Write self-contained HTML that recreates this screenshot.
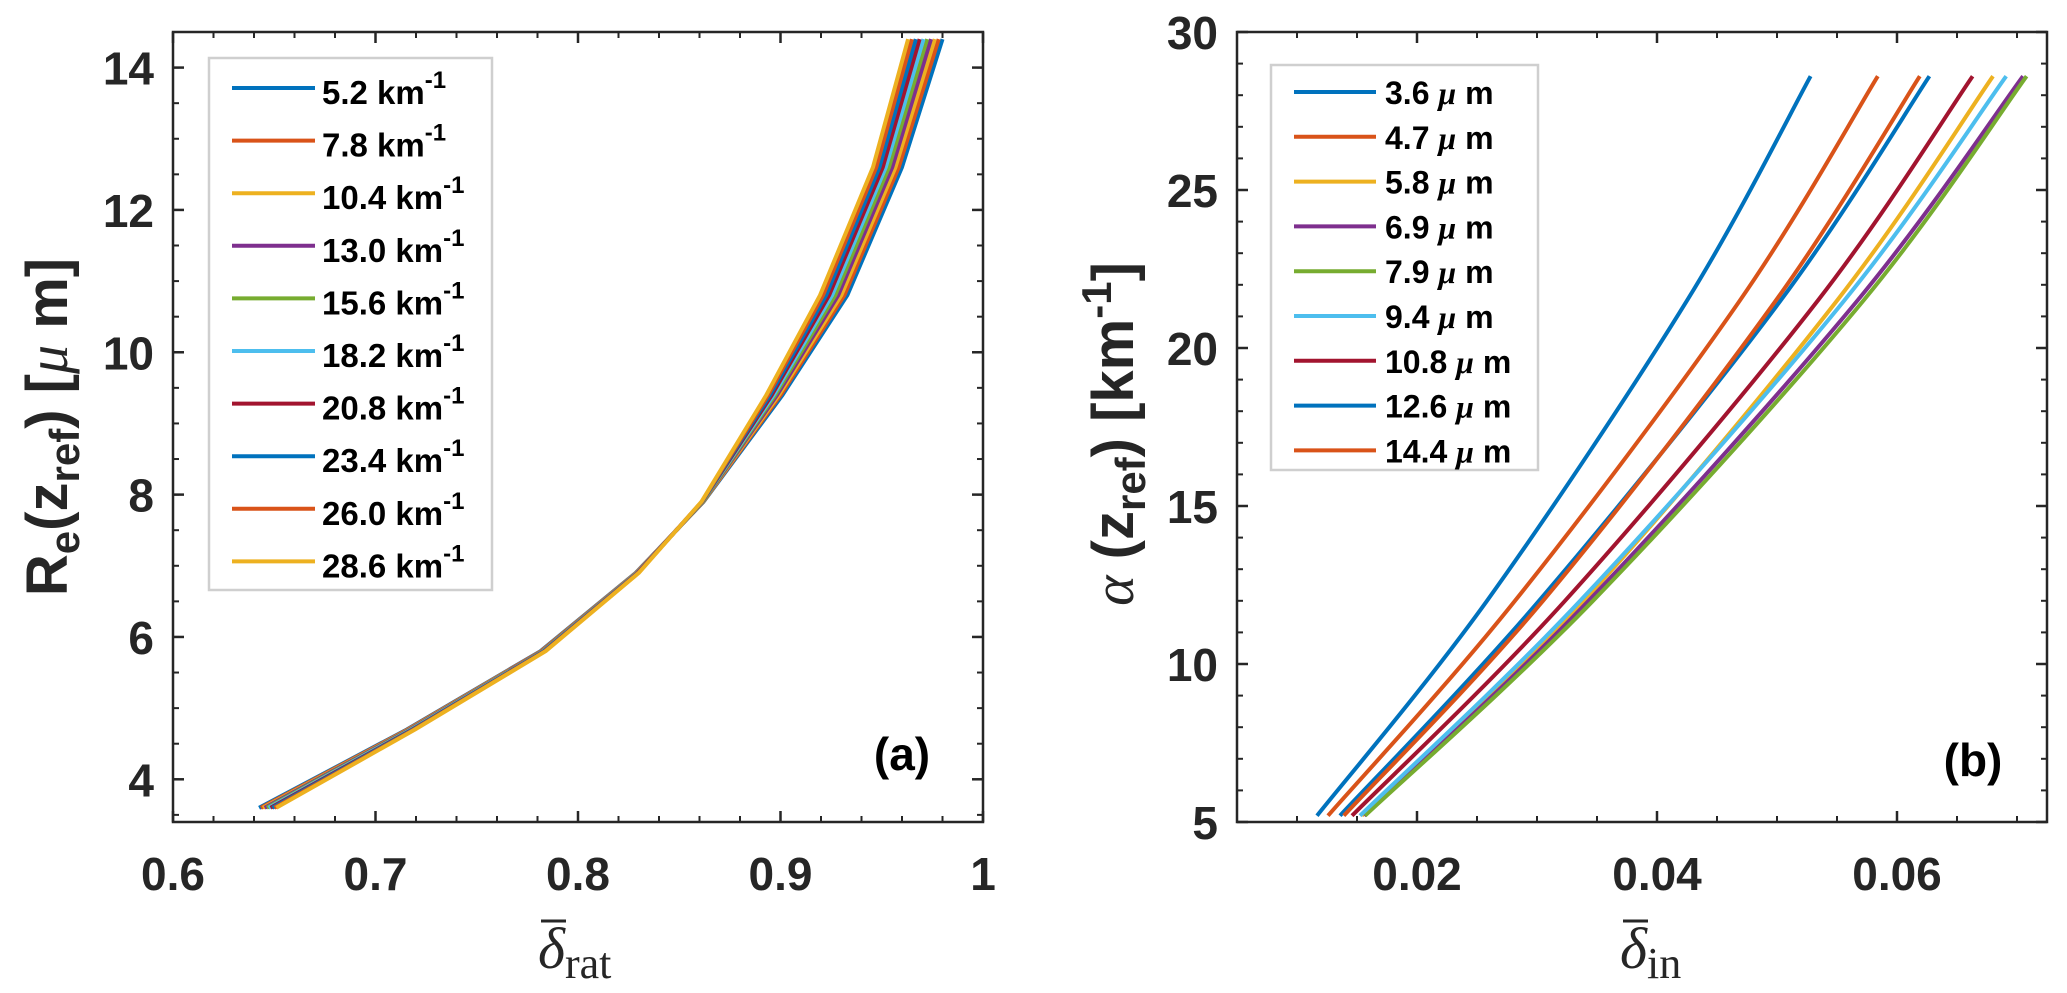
<!DOCTYPE html>
<html><head><meta charset="utf-8">
<style>
html,body{margin:0;padding:0;background:#fff;}
svg{display:block;font-family:"Liberation Sans",sans-serif;}
</style></head>
<body>
<svg id="fig" width="2067" height="993" viewBox="0 0 2067 993" xmlns="http://www.w3.org/2000/svg">
<rect width="2067" height="993" fill="#fff"/>
<g id="pa"></g>
<g id="pb"></g>
</svg>
<script>
// ---------- Panel (a) data ----------
const reLevels = [3.6, 4.7, 5.8, 6.9, 7.9, 9.4, 10.8, 12.6, 14.4];
const alphaNames = ["5.2","7.8","10.4","13.0","15.6","18.2","20.8","23.4","26.0","28.6"];
const dRat_5_2  = [0.6425,0.7155,0.7815,0.8285,0.8620,0.9010,0.9330,0.9600,0.9800];
const dRat_7_8  = [0.6434,0.7159,0.7818,0.8287,0.8619,0.9001,0.9315,0.9584,0.9781];
const dRat_10_4 = [0.6444,0.7164,0.7821,0.8288,0.8618,0.8992,0.9300,0.9568,0.9762];
const dRat_13_0 = [0.6453,0.7168,0.7823,0.8290,0.8617,0.8983,0.9285,0.9552,0.9743];
const dRat_15_6 = [0.6463,0.7173,0.7826,0.8292,0.8616,0.8974,0.9270,0.9536,0.9724];
const dRat_18_2 = [0.6472,0.7177,0.7829,0.8293,0.8614,0.8966,0.9255,0.9520,0.9706];
const dRat_20_8 = [0.6482,0.7182,0.7832,0.8295,0.8613,0.8957,0.9240,0.9505,0.9687];
const dRat_23_4 = [0.6491,0.7186,0.7834,0.8297,0.8612,0.8948,0.9225,0.9489,0.9668];
const dRat_26_0 = [0.6501,0.7191,0.7837,0.8298,0.8611,0.8939,0.9210,0.9473,0.9649];
const dRat_28_6 = [0.6510,0.7195,0.7840,0.8300,0.8610,0.8930,0.9195,0.9457,0.9630];
const xTicksA = [0.6, 0.7, 0.8, 0.9, 1];
const xTickLabelsA = ["0.6","0.7","0.8","0.9","1"];
const yTicksA = [4, 6, 8, 10, 12, 14];
const yTickLabelsA = ["4","6","8","10","12","14"];

// ---------- Panel (b) data ----------
const alphaLevels = [5.2, 12.0, 21.5, 28.6];
const reNames = ["3.6","4.7","5.8","6.9","7.9","9.4","10.8","12.6","14.4"];
const dIn_3_6  = [0.01167,0.02583,0.0425,0.0528];
const dIn_4_7  = [0.01258,0.02817,0.0469,0.0584];
const dIn_5_8  = [0.01540,0.03390,0.0550,0.0680];
const dIn_6_9  = [0.01560,0.03430,0.0567,0.0705];
const dIn_7_9  = [0.01567,0.03467,0.0572,0.0708];
const dIn_9_4  = [0.01525,0.03360,0.0556,0.0691];
const dIn_10_8 = [0.01458,0.03233,0.0534,0.0663];
const dIn_12_6 = [0.01358,0.03017,0.0503,0.0627];
const dIn_14_4 = [0.01390,0.03050,0.0499,0.0619];
const xTicksB = [0.02, 0.04, 0.06];
const xTickLabelsB = ["0.02","0.04","0.06"];
const yTicksB = [5, 10, 15, 20, 25, 30];
const yTickLabelsB = ["5","10","15","20","25","30"];

const colors = ["#0072BD","#D95319","#EDB120","#7E2F8E","#77AC30","#4DBEEE","#A2142F"];
const NS = "http://www.w3.org/2000/svg";
function mk(tag, attrs, parent){const e=document.createElementNS(NS,tag);for(const k in attrs)e.setAttribute(k,attrs[k]);parent.appendChild(e);return e;}

const TOP=32, BOT=822;
const A={l:173,r:983,xmin:0.6,xmax:1.0,ymin:3.4,ymax:14.5};
const B={l:1237,r:2047,xmin:0.005,xmax:0.0725,ymin:5,ymax:30};
function sx(ax,v){return ax.l+(v-ax.xmin)/(ax.xmax-ax.xmin)*(ax.r-ax.l);}
function sy(ax,v){return BOT-(v-ax.ymin)/(ax.ymax-ax.ymin)*(BOT-TOP);}

function drawAxes(ax, g, xt, xtl, yt, ytl, xMinorStep, yMinorStep, tag){
  for(let v=Math.ceil(ax.xmin/xMinorStep-1e-6)*xMinorStep; v<=ax.xmax+1e-9; v+=xMinorStep){
    const x=sx(ax,v);
    const t1=mk("line",{x1:x,y1:BOT,x2:x,y2:BOT-6,stroke:"#262626","stroke-width":2},g);
    
    
    const t2=mk("line",{x1:x,y1:TOP,x2:x,y2:TOP+6,stroke:"#262626","stroke-width":2},g);
    
    
  }
  for(let v=Math.ceil(ax.ymin/yMinorStep-1e-6)*yMinorStep; v<=ax.ymax+1e-9; v+=yMinorStep){
    const y=sy(ax,v);
    const t1=mk("line",{x1:ax.l,y1:y,x2:ax.l+6,y2:y,stroke:"#262626","stroke-width":2},g);
    
    
    const t2=mk("line",{x1:ax.r,y1:y,x2:ax.r-6,y2:y,stroke:"#262626","stroke-width":2},g);
    
    
  }
  xt.forEach((v,i)=>{
    const x=sx(ax,v);
    const t1=mk("line",{x1:x,y1:BOT,x2:x,y2:BOT-11,stroke:"#262626","stroke-width":2.5},g);
    
    
    const t2=mk("line",{x1:x,y1:TOP,x2:x,y2:TOP+11,stroke:"#262626","stroke-width":2.5},g);
    
    
    const tx=mk("text",{x:x,y:890,"text-anchor":"middle","font-size":46,"font-weight":"bold",fill:"#262626"},g);
    tx.textContent=xtl[i];
    
    
  });
  yt.forEach((v,i)=>{
    const y=sy(ax,v);
    const t1=mk("line",{x1:ax.l,y1:y,x2:ax.l+11,y2:y,stroke:"#262626","stroke-width":2.5},g);
    
    
    const t2=mk("line",{x1:ax.r,y1:y,x2:ax.r-11,y2:y,stroke:"#262626","stroke-width":2.5},g);
    
    
    const tx=mk("text",{x:ax.l-19,y:y+17,"text-anchor":"end","font-size":46,"font-weight":"bold",fill:"#262626"},g);
    tx.textContent=ytl[i];
    
    
  });
  const box=mk("rect",{x:ax.l,y:TOP,width:ax.r-ax.l,height:BOT-TOP,fill:"none",stroke:"#262626","stroke-width":2.5},g);
  
  
}

// ---------- Panel a ----------
const ga=document.getElementById("pa");
const seriesA=[dRat_5_2,dRat_7_8,dRat_10_4,dRat_13_0,dRat_15_6,dRat_18_2,dRat_20_8,dRat_23_4,dRat_26_0,dRat_28_6];
seriesA.forEach((arr,i)=>{
  const pts=arr.map((v,j)=>sx(A,v).toFixed(1)+","+sy(A,reLevels[j]).toFixed(1)).join(" ");
  const pl=mk("polyline",{points:pts,fill:"none",stroke:colors[i%7],"stroke-width":4,"stroke-linejoin":"round"},ga);
  
  
});
drawAxes(A,ga,xTicksA,xTickLabelsA,yTicksA,yTickLabelsA,0.02,0.5,"a");
const lga=mk("g",{},ga);


mk("rect",{x:209,y:58,width:283,height:532,fill:"#fff",stroke:"#cfcfcf","stroke-width":2.5},lga);
alphaNames.forEach((n,i)=>{
  const y=88+i*52.6;
  const en=mk("g",{},lga);
  
  
  mk("line",{x1:232,y1:y,x2:315,y2:y,stroke:colors[i%7],"stroke-width":4},en);
  const t=mk("text",{x:322,y:y+16,"font-size":33,"font-weight":"bold",fill:"#000"},en);
  t.innerHTML=n+' km<tspan font-size="24" dy="-16">-1</tspan>';
});
const yla=mk("text",{x:0,y:0,transform:"translate(67,427) rotate(-90)","text-anchor":"middle","font-size":58,"font-weight":"bold",fill:"#262626"},ga);
yla.innerHTML='R<tspan font-size="42" dy="12">e</tspan><tspan dy="-12">(z</tspan><tspan font-size="42" dy="12">ref</tspan><tspan dy="-12">) [</tspan><tspan font-family="Liberation Serif, serif" font-style="italic" font-weight="normal">μ</tspan> m]';


const xla=mk("text",{x:538,y:968,"font-family":"Liberation Serif, serif","font-size":58,fill:"#262626"},ga);
xla.innerHTML='<tspan font-style="italic">δ</tspan><tspan font-size="44" dy="10">rat</tspan>';


const oba=mk("line",{x1:541,y1:921,x2:566,y2:921,stroke:"#262626","stroke-width":3},ga);


const pla=mk("text",{x:902,y:770,"text-anchor":"middle","font-size":46,"font-weight":"bold",fill:"#000"},ga);
pla.textContent="(a)";



// ---------- Panel b ----------
const gb=document.getElementById("pb");
const seriesB=[dIn_3_6,dIn_4_7,dIn_5_8,dIn_6_9,dIn_7_9,dIn_9_4,dIn_10_8,dIn_12_6,dIn_14_4];
function smoothPath(P){
  let d="M"+P[0][0].toFixed(1)+","+P[0][1].toFixed(1);
  for(let i=0;i<P.length-1;i++){
    const p0=P[Math.max(i-1,0)],p1=P[i],p2=P[i+1],p3=P[Math.min(i+2,P.length-1)];
    const c1=[p1[0]+(p2[0]-p0[0])/6,p1[1]+(p2[1]-p0[1])/6];
    const c2=[p2[0]-(p3[0]-p1[0])/6,p2[1]-(p3[1]-p1[1])/6];
    d+=" C"+c1[0].toFixed(1)+","+c1[1].toFixed(1)+" "+c2[0].toFixed(1)+","+c2[1].toFixed(1)+" "+p2[0].toFixed(1)+","+p2[1].toFixed(1);
  }
  return d;
}
seriesB.forEach((arr,i)=>{
  const P=arr.map((v,j)=>[sx(B,v),sy(B,alphaLevels[j])]);
  const p=mk("path",{d:smoothPath(P),fill:"none",stroke:colors[i%7],"stroke-width":4},gb);
  
  
});
drawAxes(B,gb,xTicksB,xTickLabelsB,yTicksB,yTickLabelsB,0.005,1,"b");
const lgb=mk("g",{},gb);


mk("rect",{x:1271,y:65,width:267,height:405,fill:"#fff",stroke:"#cfcfcf","stroke-width":2.5},lgb);
reNames.forEach((n,i)=>{
  const y=92+i*44.8;
  const en=mk("g",{},lgb);
  
  
  mk("line",{x1:1294,y1:y,x2:1376,y2:y,stroke:colors[i%7],"stroke-width":4},en);
  const t=mk("text",{x:1385,y:y+12,"font-size":32,"font-weight":"bold",fill:"#000"},en);
  t.innerHTML=n+' <tspan font-family="Liberation Serif, serif" font-style="italic">μ</tspan> m';
});
const ylb=mk("text",{x:0,y:0,transform:"translate(1133,434) rotate(-90)","text-anchor":"middle","font-size":58,"font-weight":"bold",fill:"#262626"},gb);
ylb.innerHTML='<tspan font-family="Liberation Serif, serif" font-style="italic" font-weight="normal">α</tspan> (z<tspan font-size="42" dy="12">ref</tspan><tspan dy="-12">) [km</tspan><tspan font-size="42" dy="-22">-1</tspan><tspan dy="22">]</tspan>';


const xlb=mk("text",{x:1620,y:968,"font-family":"Liberation Serif, serif","font-size":58,fill:"#262626"},gb);
xlb.innerHTML='<tspan font-style="italic">δ</tspan><tspan font-size="44" dy="10">in</tspan>';


const obb=mk("line",{x1:1623,y1:921,x2:1648,y2:921,stroke:"#262626","stroke-width":3},gb);


const plb=mk("text",{x:1973,y:776,"text-anchor":"middle","font-size":46,"font-weight":"bold",fill:"#000"},gb);
plb.textContent="(b)";


</script>
</body></html>
